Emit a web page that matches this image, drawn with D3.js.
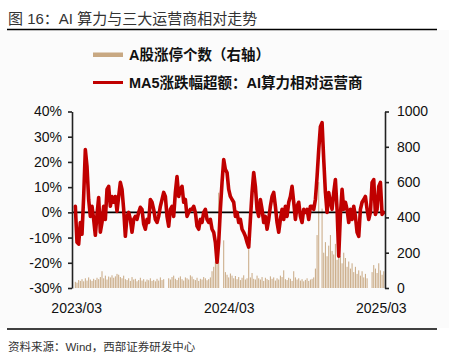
<!DOCTYPE html>
<html><head><meta charset="utf-8">
<script src="https://cdn.jsdelivr.net/npm/d3@7"></script>
<style>
html,body{margin:0;padding:0;background:#fff;}
svg{display:block;}
</style></head>
<body>
<svg id="c" width="449" height="358"></svg>
<script>
// ---- data ----
const titleText = "图 16：AI 算力与三大运营商相对走势";
const sourceText = "资料来源：Wind，西部证券研发中心";
const legendBars = "A股涨停个数（右轴）";
const legendLine = "MA5涨跌幅超额：AI算力相对运营商";
const startDate = new Date(2023, 1, 27);
const stepDays = 4;
const leftTicks = [-30, -20, -10, 0, 10, 20, 30, 40];
const rightTicks = [0, 200, 400, 600, 800, 1000];
const xTickDates = [new Date(2023, 2, 1), new Date(2024, 2, 1), new Date(2025, 2, 1)];

// MA5 excess return (%), AI computing vs telecom operators
const excess = [
  2.4, -11.9, -12.6, -4.0, -8.7, 6.3, 24.9, 18.2, 5.1, -1.6,
  2.4, -2.8, -9.1, -0.8, 5.9, -7.9, -4.0, 2.4, -2.8, 9.1,
  10.3, 2.4, 6.3, 4.0, 6.3, 0.4, 6.3, 11.9, 9.1, 1.2,
  -9.5, -1.6, 0, -2.8, -7.9, -2.8, -1.6, -2.8, 0, 2.0,
  1.2, -4.7, -6.7, -2.8, -4.0, 5.1,
  4.0, 1.2, -2.8, -4.0, -1.6, 2.4, 5.1, 7.9, 6.3, -1.6,
  -5.5, 1.2, 2.4, -1.6, 7.9, 14.2, 6.3, 9.1, 10.3, 4.0,
  5.1, -1.6, 0, 1.2, 1.2, 2.4, 0, -5.5, -6.7, -2.8,
  -4.0, 0, 1.2, -2.8, -4.0, -2.8, -6.7, -7.9, -11.9, -19.8,
  -11.9, 1.2, 11.9, 20.9, 17.0, 15.8, 9.1, 6.3,
  5.1, 4.0, -1.6, 0, -4.0, -2.8, -6.7, -7.9, -9.5, -11.9,
  -13.8, -2.8, 7.9, 15.8, 10.3, 1.2, -1.6, 5.1, 1.2, -4.0,
  -1.6, -6.7, -2.8, 2.4, 6.3, 7.9, 2.4, -4.0, -7.9, -2.8,
  1.2, -2.8, 2.4, -1.6, 4.0, 6.3, 10.3, 4.0, -2.8, 2.4,
  4.0, -1.6, -4.0, 1.2, 0, 1.2, -2.8, 2.4,
  2.4, 1.2, 5.1, 14.2, 24.9, 34.0, 35.6, 20.9, 7.9, 0,
  7.9, 4.0, 1.2, 7.9, 13.0, 1.2, -17.4, -0.8, 9.1, 1.2,
  4.0, 1.2, -4.0, 1.2, -2.8, 2.4, -1.6, -7.9, -9.5, 1.2,
  4.0, 5.1, 6.3, 1.2, -2.8, 0, 11.9, 13.0, -0.8, 1.2,
  10.3, 11.9, -0.8, 0
];

// number of limit-up stocks (right axis)
const limitUps = [
  35, 30, 45, 40, 50, 38, 55, 42, 60, 48,
  40, 52, 45, 58, 50, 62, 95, 55, 70, 48,
  65, 60, 72, 58, 66, 80, 75, 62, 55, 70,
  50, 45, 55, 40, 62, 48, 52, 38, 45, 58,
  42, 50, 36, 48, 44, 55, 40, 46, 38, 52,
  42, 60, 45, 50, 0, 0, 55, 48, 62, 70,
  52, 45, 58, 66, 50, 42, 60, 55, 48, 72,
  65, 50, 45, 58, 40, 52, 48, 62, 55, 44,
  50, 60, 95, 120, 150, 180, 540, 0, 0, 270,
  90, 75, 60, 82, 70, 55, 68, 50, 62, 45,
  58, 72, 48, 55, 220, 60, 85, 52, 48, 70,
  55, 48, 62, 40, 58, 50, 45, 66, 52, 60,
  42, 55, 48, 70, 62, 100, 50, 45, 58, 52,
  40, 95, 60, 48, 55, 42, 50, 38, 46, 55,
  40, 48, 52, 60, 110, 300, 600, 0, 450, 200,
  260, 180, 240, 300, 210, 190, 250, 160, 220, 180,
  140, 200, 170, 120, 150, 110, 140, 90, 120, 80,
  100, 70, 95, 60, 80, 55, 0, 0, 90, 130,
  110, 85, 140, 100, 75, 95
];

const dates = excess.map((_, i) => d3.timeDay.offset(startDate, i * stepDays));

// ---- drawing ----
const svg = d3.select("#c");
const FONT = "'Liberation Sans', Arial, 'Noto Sans CJK SC', sans-serif";
const RED = "#c00000", TAN = "#c8a882";

svg.append("rect").attr("x", 0).attr("y", 30).attr("width", 449).attr("height", 298).attr("fill", "#fbfbfb");

svg.append("text").attr("x", 8).attr("y", 23.5)
  .attr("font-family", FONT).attr("font-size", 15)
  .attr("fill", "#333").text(titleText);
svg.append("line").attr("x1", 7).attr("x2", 437).attr("y1", 29.5).attr("y2", 29.5)
  .attr("stroke", "#000").attr("stroke-width", 1.6);
svg.append("line").attr("x1", 7).attr("x2", 437).attr("y1", 329).attr("y2", 329)
  .attr("stroke", "#000").attr("stroke-width", 1.4);
svg.append("text").attr("x", 8).attr("y", 351)
  .attr("font-family", FONT).attr("font-size", 11.5)
  .attr("fill", "#333").text(sourceText);

// legend
svg.append("rect").attr("x", 93).attr("y", 52.5).attr("width", 30).attr("height", 4.5).attr("fill", TAN);
svg.append("text").attr("x", 129).attr("y", 60).attr("font-family", FONT).attr("font-weight", "bold")
  .attr("font-size", 14.5).attr("fill", "#111").text(legendBars);
svg.append("line").attr("x1", 93).attr("x2", 123).attr("y1", 82.5).attr("y2", 82.5)
  .attr("stroke", RED).attr("stroke-width", 3);
svg.append("text").attr("x", 129).attr("y", 87.5).attr("font-family", FONT).attr("font-weight", "bold")
  .attr("font-size", 14.5).attr("fill", "#111").text(legendLine);

// scales
const x = d3.scaleTime().domain([new Date(2023, 1, 19), new Date(2025, 2, 11)]).range([72, 385]);
const yL = d3.scaleLinear().domain([-30, 40]).range([288, 111.5]);
const yR = d3.scaleLinear().domain([0, 1000]).range([288, 111.5]);

// bars
svg.append("g").selectAll("rect").data(limitUps).join("rect")
  .attr("x", (d, i) => x(dates[i]) - 0.5)
  .attr("width", 1)
  .attr("y", d => yR(d))
  .attr("height", d => yR(0) - yR(d))
  .attr("fill", TAN);

// zero line
svg.append("line").attr("x1", 72).attr("x2", 385).attr("y1", yL(0)).attr("y2", yL(0))
  .attr("stroke", "#000").attr("stroke-width", 1.8);

// line
const line = d3.line().x((d, i) => x(dates[i])).y(d => yL(d)).curve(d3.curveLinear);
svg.append("path").datum(excess).attr("d", line).attr("fill", "none")
  .attr("stroke", RED).attr("stroke-width", 3.6).attr("stroke-linejoin", "round").attr("stroke-linecap", "round");

// axes
function styleAxis(g) {
  g.select(".domain").attr("stroke", "#222").attr("stroke-width", 1.6);
  g.selectAll(".tick line").attr("stroke", "#222").attr("stroke-width", 1.6);
  g.selectAll("text").attr("font-family", FONT).attr("font-size", 14).attr("fill", "#111");
}
const gL = svg.append("g").attr("transform", "translate(72,0)")
  .call(d3.axisLeft(yL).tickValues(leftTicks).tickFormat(d => d + "%").tickSize(4).tickSizeOuter(0).tickPadding(6));
styleAxis(gL);
const gR = svg.append("g").attr("transform", "translate(385,0)")
  .call(d3.axisRight(yR).tickValues(rightTicks).tickFormat(d => String(d)).tickSize(4).tickSizeOuter(0).tickPadding(8));
styleAxis(gR);
const gX = svg.append("g").attr("transform", "translate(0,288)")
  .call(d3.axisBottom(x).tickValues(xTickDates).tickFormat(d3.timeFormat("%Y/%m")).tickSize(0).tickPadding(15));
gX.select(".domain").remove();
styleAxis(gX);
</script>
</body></html>
